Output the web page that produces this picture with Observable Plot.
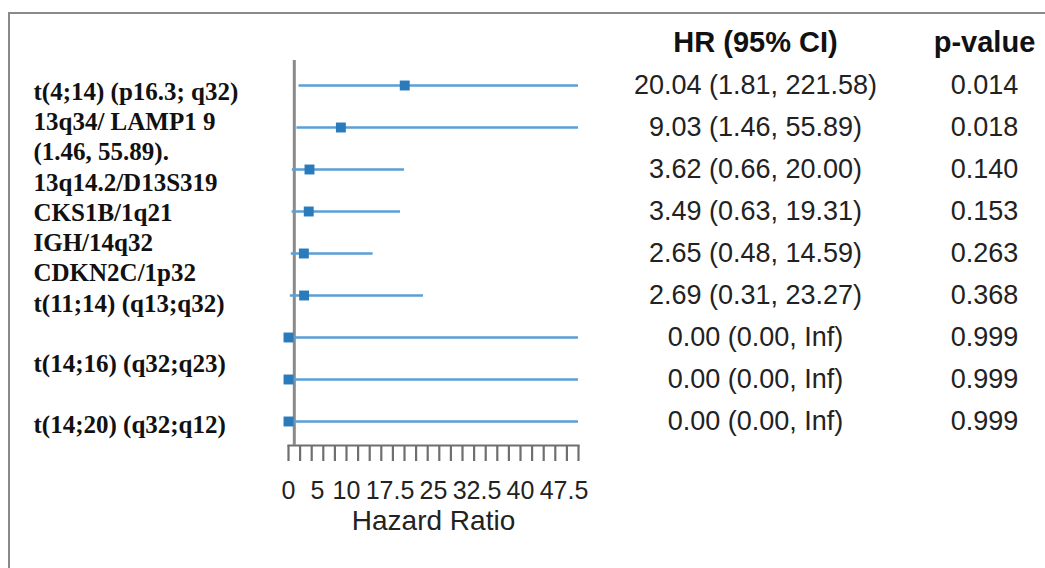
<!DOCTYPE html>
<html>
<head>
<meta charset="utf-8">
<script src="https://cdn.jsdelivr.net/npm/d3@7"></script>
<script src="https://cdn.jsdelivr.net/npm/@observablehq/plot@0.6"></script>
<style>
  html, body { margin: 0; padding: 0; background: #fff; overflow: hidden; width: 1045px; height: 568px; }
  #chart { position: relative; width: 1045px; height: 568px; }
  #chart .box { position: absolute; left: 8px; top: 12px; width: 1100px; height: 600px;
    border-left: 2px solid #8a8a8a; border-top: 2px solid #8a8a8a; }
  #chart svg { position: absolute; left: 0; top: 0; }
</style>
</head>
<body>
<div id="chart"><div class="box"></div></div>
<script>
// FISH markers, one row each in the forest plot
const markers = [
  "t(4;14)", "13q34/LAMP1", "13q14.2/D13S319", "CKS1B/1q21", "IGH/14q32",
  "CDKN2C/1p32", "t(11;14)", "t(14;16)", "t(14;20)"
];
// hazard ratio with its 95% confidence interval, and the p-value
const hazardRatio = [20.04, 9.03, 3.62, 3.49, 2.65, 2.69, 0.00, 0.00, 0.00];
const ciLower     = [1.81, 1.46, 0.66, 0.63, 0.48, 0.31, 0.00, 0.00, 0.00];
const ciUpper     = [221.58, 55.89, 20.00, 19.31, 14.59, 23.27, Infinity, Infinity, Infinity];
const pValue      = [0.014, 0.018, 0.140, 0.153, 0.263, 0.368, 0.999, 0.999, 0.999];

// label column on the left, line by line
const labelLines = [
  "t(4;14) (p16.3; q32)",
  "13q34/ LAMP1 9",
  "(1.46, 55.89).",
  "13q14.2/D13S319",
  "CKS1B/1q21",
  "IGH/14q32",
  "CDKN2C/1p32",
  "t(11;14) (q13;q32)",
  "",
  "t(14;16) (q32;q23)",
  "",
  "t(14;20) (q32;q12)"
];

const xDomain = [0, 50];
const tickLabels = [0, 5, 10, 17.5, 25, 32.5, 40, 47.5];
const referenceHR = [1];
const columnHeaders = ["HR (95% CI)", "p-value"];
const axisTitle = "Hazard Ratio";

const rows = markers.map((marker, i) => ({
  marker,
  hr: hazardRatio[i],
  lo: ciLower[i],
  hi: ciUpper[i],
  p: pValue[i]
}));

const fmt = (v) => Number.isFinite(v) ? v.toFixed(2) : "Inf";
const sans = "'Liberation Sans', Arial, sans-serif";

const chart = Plot.plot({
  width: 1045,
  height: 568,
  marginLeft: 288,
  marginRight: 467,
  marginTop: 60,
  marginBottom: 123,
  style: { background: "transparent", fontFamily: sans, color: "#222" },
  x: { domain: xDomain, clamp: true },
  y: { type: "point", domain: markers, padding: 0.52, axis: null },
  marks: [
    // baseline and tick marks of the hazard-ratio axis
    Plot.frame({ anchor: "bottom", stroke: "#6f6f6f", strokeWidth: 2 }),
    Plot.axisX({ ticks: 20, tickSize: 16, tickFormat: () => "", stroke: "#6f6f6f", strokeWidth: 2.2 }),
    Plot.axisX({ ticks: tickLabels, tickSize: 0, tickPadding: 36, fontSize: 25, fill: "#222", tickFormat: (d) => String(d) }),
    // no-effect line
    Plot.ruleX(referenceHR, { stroke: "#8a8a8a", strokeWidth: 3 }),
    // confidence intervals and point estimates
    Plot.ruleY(rows, { y: "marker", x1: "lo", x2: "hi", stroke: "#5a9fd6", strokeWidth: 2.5 }),
    Plot.dot(rows, { x: "hr", y: "marker", symbol: "square", r: 5.6, fill: "#2a7bbb" }),
    // table columns on the right
    Plot.text(rows, { y: "marker", text: (d) => `${fmt(d.hr)} (${fmt(d.lo)}, ${fmt(d.hi)})`,
      frameAnchor: "right", textAnchor: "middle", dx: 177, fontSize: 27, fill: "#222" }),
    Plot.text(rows, { y: "marker", text: (d) => d.p.toFixed(3),
      frameAnchor: "right", textAnchor: "middle", dx: 406, fontSize: 27, fill: "#222" }),
    Plot.text([columnHeaders[0]], { text: (d) => d, frameAnchor: "top-right", textAnchor: "middle", lineAnchor: "middle",
      dx: 177, dy: -18, fontSize: 29, fontWeight: "bold", fill: "#111" }),
    Plot.text([columnHeaders[1]], { text: (d) => d, frameAnchor: "top-right", textAnchor: "middle", lineAnchor: "middle",
      dx: 406, dy: -18, fontSize: 29, fontWeight: "bold", fill: "#111" }),
    // axis title
    Plot.text([axisTitle], { text: (d) => d, frameAnchor: "bottom", lineAnchor: "middle", dy: 76, fontSize: 28, fill: "#222" }),
    // marker labels on the left
    Plot.text([labelLines.join("\n")], { text: (d) => d, frameAnchor: "top-left", dx: -255, dy: 18,
      textAnchor: "start", lineAnchor: "top", lineHeight: 1.21,
      fontFamily: "'Liberation Serif', 'Times New Roman', serif", fontWeight: "bold", fontSize: 25, fill: "#111" })
  ]
});

document.getElementById("chart").appendChild(chart);
</script>
</body>
</html>
